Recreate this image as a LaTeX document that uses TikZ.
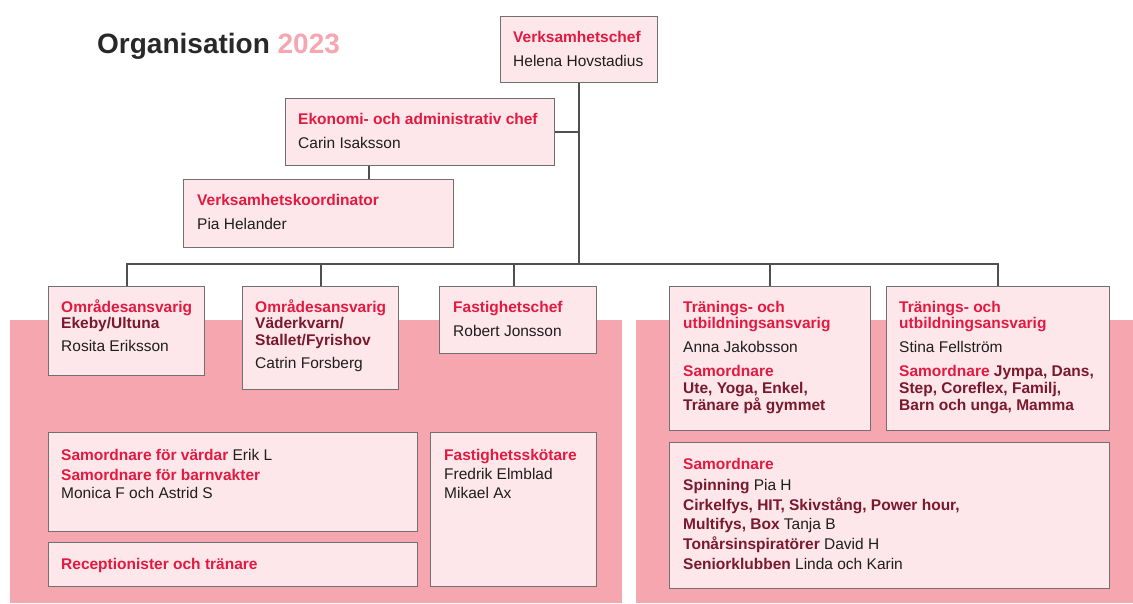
\documentclass[tikz,border=0pt]{standalone}
\usepackage{fontspec}
\setmainfont{Liberation Sans}
\usetikzlibrary{positioning}

\definecolor{headred}{RGB}{226,26,64}
\definecolor{darkred}{RGB}{122,24,44}
\definecolor{boxfill}{RGB}{253,231,234}
\definecolor{boxline}{RGB}{112,112,112}
\definecolor{panelpink}{RGB}{246,166,174}
\definecolor{linkgray}{RGB}{80,80,80}
\definecolor{titlegray}{RGB}{40,40,40}
\definecolor{titlepink}{RGB}{245,166,176}
\definecolor{namegray}{RGB}{30,30,30}

\newcommand{\rubrik}[1]{{\bfseries\color{headred}#1}}
\newcommand{\omr}[1]{{\bfseries\color{darkred}#1}}

\begin{document}
\begin{tikzpicture}[x=1pt, y=-1pt]
        \tikzset{
          orgbox/.style = {draw=boxline, fill=boxfill, line width=1.3pt, anchor=north west, inner sep=0pt},
          orgtext/.style = {anchor=north west, align=left, inner sep=0pt, text=namegray,
                            font=\fontsize{15.5}{17}\selectfont},
          link/.style = {draw=linkgray, line width=1.8pt}
        }
        \useasboundingbox (0,0) rectangle (1133,603);

        % background panels
        \fill[panelpink] (10,320) rectangle (622,603);
        \fill[panelpink] (636,320) rectangle (1133,603);

        \node[anchor=base west, inner sep=0pt, text=titlegray, font=\fontsize{28}{30}\selectfont\bfseries]
          at (97,53) (titel) {Organisation \textcolor{titlepink}{2023}};

        % ledning
        \node[orgbox, minimum width=157pt, minimum height=66pt] at (500,16) (vc) {};
        \node[orgtext] at ([shift={(13,14)}]vc.north west) (vc_t)
          {\strut\rubrik{Verksamhetschef}\\[7pt]Helena Hovstadius};

        \node[orgbox, minimum width=269pt, minimum height=67pt] at (285,98) (eko) {};
        \node[orgtext] at ([shift={(13,14)}]eko.north west) (eko_t)
          {\strut\rubrik{Ekonomi- och administrativ chef}\\[7pt]Carin Isaksson};

        \node[orgbox, minimum width=270pt, minimum height=68pt] at (183,179) (koord) {};
        \node[orgtext] at ([shift={(14,14)}]koord.north west) (koord_t)
          {\strut\rubrik{Verksamhetskoordinator}\\[7pt]Pia Helander};

        % rad 1
        \node[orgbox, minimum width=156pt, minimum height=89pt] at (48,286) (omr1) {};
        \node[orgtext] at ([shift={(13,14)}]omr1.north west) (omr1_t)
          {\strut\rubrik{Områdesansvarig}\\[-1pt]\omr{Ekeby/Ultuna}\\[6pt]Rosita Eriksson};

        \node[orgbox, minimum width=156pt, minimum height=103pt] at (242,286) (omr2) {};
        \node[orgtext] at ([shift={(13,14)}]omr2.north west) (omr2_t)
          {\strut\rubrik{Områdesansvarig}\\[-1pt]\omr{Väderkvarn/}\\\omr{Stallet/Fyrishov}\\[6pt]Catrin Forsberg};

        \node[orgbox, minimum width=157pt, minimum height=67pt] at (439,286) (fast) {};
        \node[orgtext] at ([shift={(14,14)}]fast.north west) (fast_t)
          {\strut\rubrik{Fastighetschef}\\[7pt]Robert Jonsson};

        \node[orgbox, minimum width=201pt, minimum height=144pt] at (669,286) (tr1) {};
        \node[orgtext] at ([shift={(14,14)}]tr1.north west) (tr1_t)
          {\strut\rubrik{Tränings- och}\\[-1pt]\rubrik{utbildningsansvarig}\\[7pt]Anna Jakobsson\\[7pt]%
           \rubrik{Samordnare}\\\omr{Ute, Yoga, Enkel,}\\\omr{Tränare på gymmet}};

        \node[orgbox, minimum width=223pt, minimum height=144pt] at (886,286) (tr2) {};
        \node[orgtext] at ([shift={(13,14)}]tr2.north west) (tr2_t)
          {\strut\rubrik{Tränings- och}\\[-1pt]\rubrik{utbildningsansvarig}\\[7pt]Stina Fellström\\[7pt]%
           \rubrik{Samordnare} \omr{Jympa, Dans,}\\\omr{Step, Coreflex, Familj,}\\\omr{Barn och unga, Mamma}};

        % rad 2
        \node[orgbox, minimum width=369pt, minimum height=99pt] at (48,432) (sam) {};
        \node[orgtext] at ([shift={(13,16)}]sam.north west) (sam_t)
          {\strut\rubrik{Samordnare för värdar} Erik L\\[3pt]\rubrik{Samordnare för barnvakter}\\[1pt]Monica F och Astrid S};

        \node[orgbox, minimum width=369pt, minimum height=44pt] at (48,542) (rec) {};
        \node[orgtext] at ([shift={(13,15)}]rec.north west) (rec_t)
          {\strut\rubrik{Receptionister och tränare}};

        \node[orgbox, minimum width=166pt, minimum height=154pt] at (430,432) (skot) {};
        \node[orgtext] at ([shift={(14,16)}]skot.north west) (skot_t)
          {\strut\rubrik{Fastighetsskötare}\\[2pt]Fredrik Elmblad\\[2pt]Mikael Ax};

        \node[orgbox, minimum width=440pt, minimum height=146pt] at (669,442) (samr) {};
        \node[orgtext] at ([shift={(14,15)}]samr.north west) (samr_t)
          {\strut\rubrik{Samordnare}\\[4pt]\omr{Spinning} Pia H\\[3pt]%
           \omr{Cirkelfys, HIT, Skivstång, Power hour,}\\[2pt]\omr{Multifys, Box} Tanja B\\[3pt]%
           \omr{Tonårsinspiratörer} David H\\[3pt]\omr{Seniorklubben} Linda och Karin};

        % linjer
        \coordinate (bus) at (578,264);
        \draw[link] (vc.south) -- (vc.south |- bus);
        \draw[link] (eko.east) -- (eko.east -| vc.south);
        \draw[link] ([xshift=-51pt]eko.south) -- ([xshift=-51pt]eko.south |- koord.north);
        \draw[link] (omr1.north) |- (tr2.north |- bus) -- (tr2.north);
        \draw[link] (omr2.north) -- (omr2.north |- bus);
        \draw[link] ([xshift=-4pt]fast.north) -- ([xshift=-4pt]fast.north |- bus);
        \draw[link] (tr1.north) -- (tr1.north |- bus);
      \end{tikzpicture}
\end{document}
